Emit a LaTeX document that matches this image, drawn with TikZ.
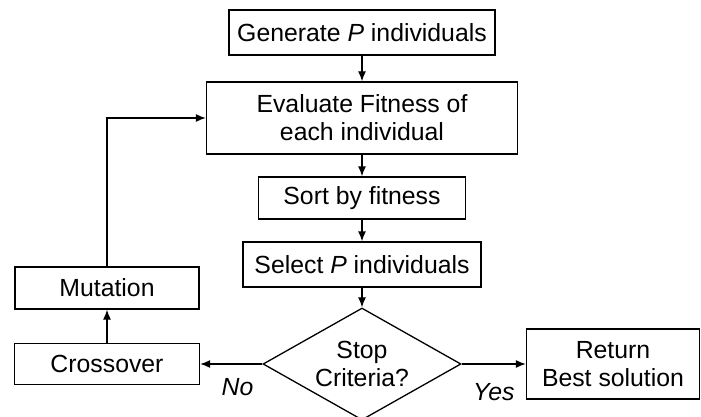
\documentclass[tikz,border=0pt]{standalone}
\usepackage{fontspec}
\setmainfont{Liberation Sans}
\usetikzlibrary{arrows,arrows.meta,positioning,shapes.geometric}

\begin{document}
\begin{tikzpicture}[>={Latex[length=5pt,width=4pt]},line width=0.65pt,on grid,
   block/.style={rectangle,draw,inner sep=0pt,align=center,font=\fontsize{12.4}{14}\selectfont},
   decision/.style={diamond,draw,aspect=1.77,inner sep=0pt,minimum width=99pt,minimum height=56pt,align=center,font=\fontsize{12.4}{14}\selectfont},
   answer/.style={font=\fontsize{12.4}{14}\selectfont\itshape}]
   \useasboundingbox (0,0) rectangle (350.5pt,-208.5pt);

   \node[block,minimum width=133pt,minimum height=22.5pt] (gen) at (181pt,-16.25pt) {Generate \textit{P} individuals};
   \node[block,minimum width=155.5pt,minimum height=36pt] (eval) [below=42.75pt of gen] {Evaluate Fitness of\\each individual};
   \node[block,minimum width=103.5pt,minimum height=21pt] (sort) [below=40pt of eval] {Sort by fitness};
   \node[block,minimum width=119pt,minimum height=22.5pt] (sel) [below=33.25pt of sort] {Select \textit{P} individuals};
   \node[decision] (stop) [below=49.75pt of sel] {Stop\\Criteria?};
   \node[block,minimum width=92.5pt,minimum height=20.5pt] (cross) [left=127.5pt of stop] {Crossover};
   \node[block,minimum width=92pt,minimum height=21pt] (mut) [above=38pt of cross] {Mutation};
   \node[block,minimum width=86.5pt,minimum height=35pt] (ret) [right=125.5pt of stop] {Return\\Best solution};

   \path[->]
   (gen) edge (eval)
   (eval) edge (sort)
   (sort) edge (sel)
   (sel) edge (stop)
   (stop) edge node[answer,pos=0.4,yshift=-11.5pt] {No} (cross)
          edge node[answer,pos=0.5,yshift=-14pt] {Yes} (ret)
   (cross) edge (mut);
   \draw[->] (mut) |- (eval);
\end{tikzpicture}
\end{document}
